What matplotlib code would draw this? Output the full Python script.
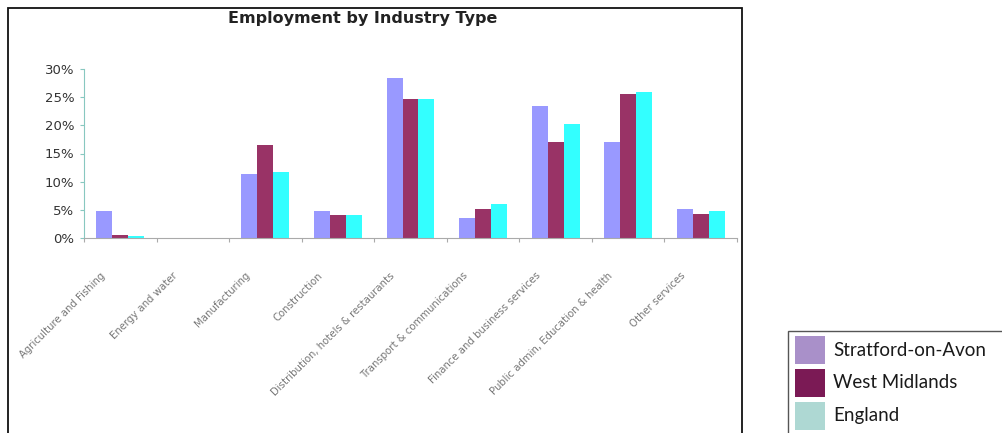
import matplotlib.pyplot as plt
import numpy as np
from matplotlib.patches import Rectangle

categories = ['Agriculture and Fishing', 'Energy and water', 'Manufacturing', 'Construction',
              'Distribution, hotels & restaurants', 'Transport & communications',
              'Finance and business services', 'Public admin, Education & health',
              'Other services']
series = ['Stratford-on-Avon', 'West Midlands', 'England']
stratford = [4.8, 0.0, 11.4, 4.8, 28.4, 3.5, 23.4, 17.1, 5.1]
west_mids = [0.5, 0.0, 16.5, 4.1, 24.7, 5.1, 17.1, 25.5, 4.2]
england = [0.3, 0.0, 11.7, 4.1, 24.7, 6.0, 20.3, 26.0, 4.8]
yticks = [0, 5, 10, 15, 20, 25, 30]

bar_colors = ['#9999ff', '#993366', '#33ffff']
legend_colors = ['#a990c9', '#7b1a55', '#aed8d3']

W, H = 1002, 433
fig = plt.figure(figsize=(W / 100, H / 100), dpi=100)

def px(x, y):
    # pixel (from top-left) -> figure fraction
    return x / W, 1 - y / H

# frame around the embedded chart image
fig.patches.append(Rectangle((8 / W, -0.05), (742 - 8) / W, 1.05 - 8 / H,
                             transform=fig.transFigure, fill=False,
                             edgecolor='#111111', linewidth=1.3))

ax = fig.add_axes([84 / W, (H - 238) / H, (737 - 84) / W, (238 - 69) / H])
x = np.arange(len(categories))
bw = 0.22
for i, vals in enumerate([stratford, west_mids, england]):
    ax.bar(x + (i - 1) * bw, vals, width=bw, color=bar_colors[i], linewidth=0)

ax.set_xlim(-0.5, len(categories) - 0.5)
ax.set_ylim(0, 30)
ax.set_yticks(yticks)
ax.set_yticklabels(['%d%%' % v for v in yticks], fontsize=9.5, color='#333333')
ax.set_xticks(np.arange(len(categories) + 1) - 0.5)
ax.set_xticklabels([])
ax.tick_params(axis='x', length=3, color='#aaaaaa')
ax.tick_params(axis='y', length=3, color='#88c8c0', pad=4)
for s in ['top', 'right']:
    ax.spines[s].set_visible(False)
ax.spines['left'].set_color('#88c8c0')
ax.spines['bottom'].set_color('#aaaaaa')

for i, lab in enumerate(categories):
    ax.annotate(lab, xy=(i, 0), xycoords=('data', 'axes fraction'),
                xytext=(-17, -36), textcoords='offset pixels',
                ha='right', va='center', rotation=45, rotation_mode='anchor',
                fontsize=7.3, color='#777777')

fig.text(*px(363, 18), 'Employment by Industry Type', ha='center', va='center',
         fontsize=11.5, fontweight='bold', color='#222222')

# legend box (separate from the chart, bottom right)
fig.patches.append(Rectangle(px(788, 440), (1010 - 788) / W, (440 - 331) / H,
                             transform=fig.transFigure, facecolor='white',
                             edgecolor='#555555', linewidth=1.0))
for k, (name, col) in enumerate(zip(series, legend_colors)):
    top = 336 + k * 33
    fig.patches.append(Rectangle(px(795, top + 28), 30 / W, 28 / H,
                                 transform=fig.transFigure, facecolor=col,
                                 edgecolor='none'))
    fig.text(*px(833, top + 14), name, ha='left', va='center',
             fontsize=13.5, family='Lato', color='#1a1a1a')

fig.savefig('out.png', dpi=100)
